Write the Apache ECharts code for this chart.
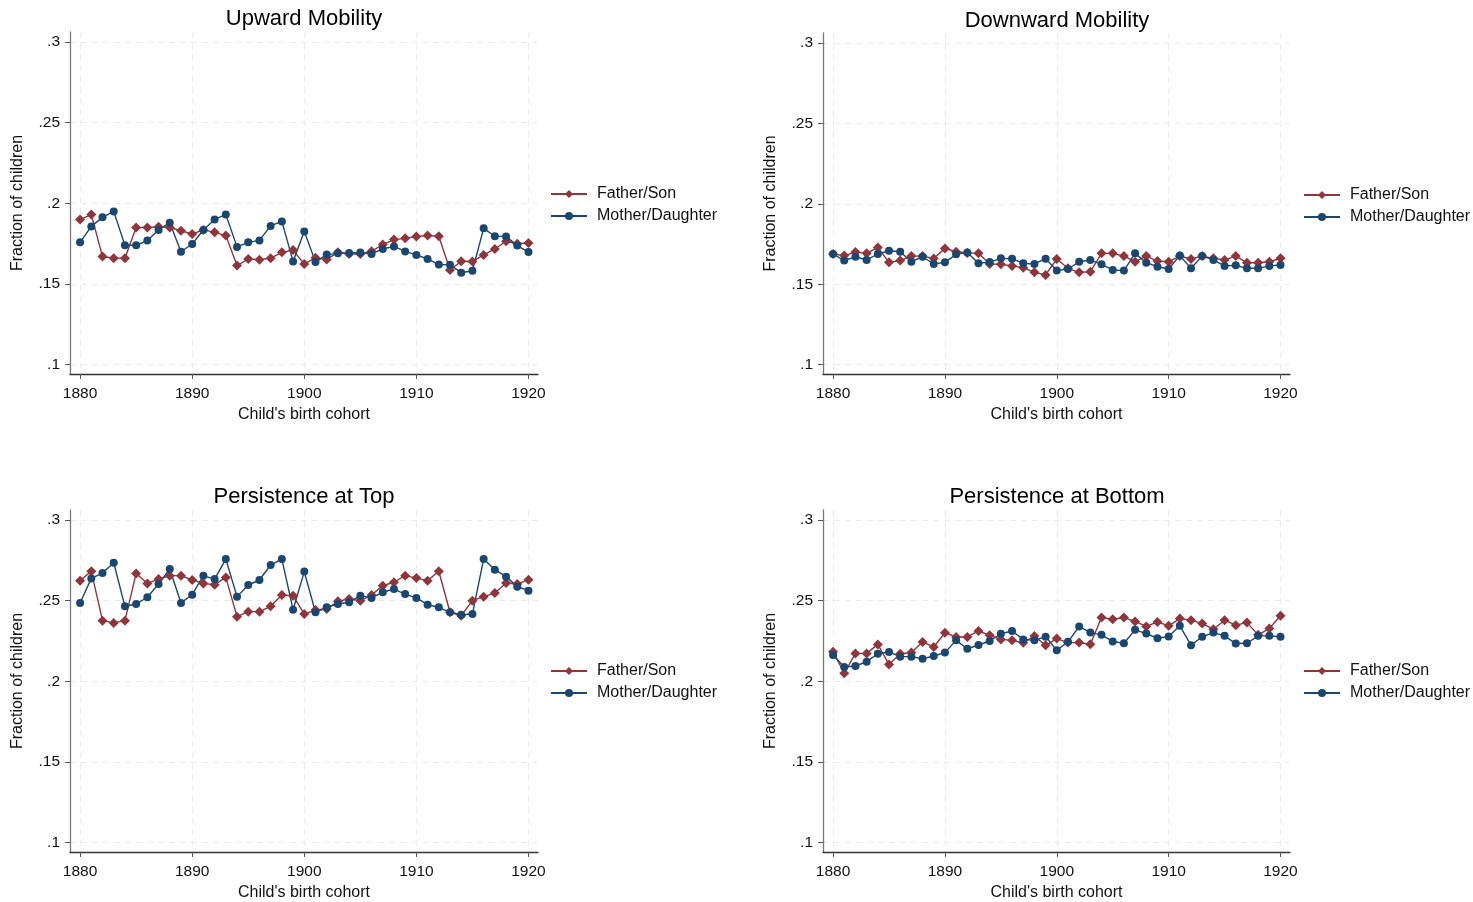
<!DOCTYPE html>
<html>
<head>
<meta charset="utf-8">
<script src="https://cdn.jsdelivr.net/npm/echarts@6/dist/echarts.min.js"></script>
<style>
html,body{margin:0;padding:0;background:#fff;}
#chart{width:1473px;height:902px;}
</style>
</head>
<body>
<div id="chart"></div>
<script>
// ---- data ----
const years = [];
for (let y = 1880; y <= 1920; y++) years.push(y);

const xTicks = [1880, 1890, 1900, 1910, 1920];
const yTicks = [0.1, 0.15, 0.2, 0.25, 0.3];

const panelTitles = ['Upward Mobility', 'Downward Mobility', 'Persistence at Top', 'Persistence at Bottom'];
const seriesNames = ['Father/Son', 'Mother/Daughter'];

const upFS = [.190,.193,.167,.166,.166,.185,.185,.1855,.185,.183,
              .181,.1835,.182,.180,.1614,.1655,.165,.166,.1696,.171,
              .1624,.1662,.1651,.1697,.1686,.1686,.1703,.1744,.1775,.1783,
              .1794,.180,.1796,.1587,.1641,.1639,.168,.1717,.1765,.1750,
              .1754];
const upMD = [.1758,.1857,.1913,.195,.174,.174,.1769,.1835,.188,.170,
              .1748,.1835,.190,.193,.173,.1758,.177,.186,.1888,.1640,
              .1825,.1637,.1682,.1690,.1692,.1695,.1686,.1717,.1733,.1702,
              .168,.1655,.1620,.1619,.1570,.1582,.1845,.1796,.1795,.1738,
              .1698];

const downFS = [.1688,.1678,.170,.1692,.1729,.1636,.1647,.1675,.1675,.166,
                .1723,.1702,.1695,.1692,.1626,.1624,.1614,.1603,.1574,.1558,
                .1657,.1599,.1574,.1578,.1692,.1692,.1675,.164,.1675,.1644,
                .164,.1675,.1657,.1675,.1661,.1651,.1675,.1634,.1634,.164,
                .1661];
const downMD = [.1688,.1647,.1671,.1651,.1688,.1708,.1702,.164,.1671,.1626,
                .1636,.1686,.1698,.1630,.1638,.1661,.1659,.1630,.1626,.1659,
                .1585,.1595,.164,.1651,.1624,.1589,.1585,.1692,.1634,.1609,
                .1595,.1678,.1599,.1675,.1651,.1614,.1618,.1599,.1599,.1614,
                .162];

const topFS = [.2624,.2682,.2376,.2362,.2376,.2669,.2607,.2634,.2655,.2655,
               .2628,.2607,.2599,.2644,.2401,.2432,.2432,.2465,.2535,.2531,
               .2417,.2442,.2448,.2496,.251,.25,.2535,.2593,.2614,.2655,
               .264,.2624,.2682,.2428,.2407,.25,.2525,.2547,.2609,.2603,
               .263];
const topMD = [.2486,.2638,.2671,.2735,.2465,.2479,.2521,.2603,.2696,.2486,
               .2537,.2655,.2634,.2758,.2525,.2597,.2628,.2721,.2758,.2444,
               .268,.2428,.2459,.2479,.249,.2531,.2517,.2552,.2572,.2541,
               .2517,.2475,.2459,.2428,.2413,.2417,.2758,.2692,.2649,.2587,
               .2562];

const botFS = [.2184,.205,.2173,.2173,.2229,.2105,.2171,.2178,.2244,.2213,
               .2301,.2275,.2275,.2312,.2285,.226,.2254,.2239,.2281,.2223,
               .2265,.224,.224,.223,.2395,.2385,.2395,.2371,.234,.2368,
               .2344,.2389,.2379,.2358,.2323,.2379,.2348,.2364,.2288,.2327,
               .2406];
const botMD = [.2163,.2089,.2095,.2122,.2171,.2182,.2153,.2153,.214,.2157,
               .2178,.2254,.2202,.2225,.225,.2295,.2312,.226,.2254,.2277,
               .2193,.2245,.234,.2302,.2288,.2247,.2236,.2319,.2296,.2267,
               .2278,.2344,.2224,.2276,.2302,.2282,.2234,.2236,.2282,.2282,
               .2276];

const panelData = [[upFS, upMD], [downFS, downMD], [topFS, topMD], [botFS, botMD]];

// ---- layout / style ----
const FONT = 'Liberation Sans, Arial, sans-serif';
const RED = '#90353B';
const BLUE = '#1A476F';
const grids = [
  {left: 70,  top: 32,  width: 468, height: 342},
  {left: 823, top: 33,  width: 467, height: 341},
  {left: 70,  top: 510, width: 468, height: 342},
  {left: 823, top: 510, width: 467, height: 342}
];
const titlePos = [[304, 8], [1057, 10], [304, 486], [1057, 486]];
const legendPos = [[550, 186], [1303, 187], [550, 663], [1303, 663]];

const gridLine = {show: true, lineStyle: {color: '#ebebeb', width: 1, type: [6, 5]}};

const option = {
  animation: false,
  backgroundColor: '#fff',
  title: panelTitles.map((t, i) => ({
    text: t, left: titlePos[i][0], top: titlePos[i][1], textAlign: 'center', padding: 0,
    textStyle: {fontFamily: FONT, fontSize: 22, fontWeight: 'normal', color: '#000'}
  })),
  legend: legendPos.map((p, i) => ({
    data: seriesNames, orient: 'vertical', left: p[0], top: p[1], padding: 0,
    itemWidth: 36, itemHeight: 10, itemGap: 6,
    textStyle: {fontFamily: FONT, fontSize: 16, lineHeight: 16, color: '#111', padding: [0, 0, 0, 5]},
    selectedMode: false
  })),
  grid: grids,
  xAxis: grids.map((g, i) => ({
    type: 'value', gridIndex: i, min: 1879.1, max: 1920.85,
    name: "Child's birth cohort", nameLocation: 'middle', nameGap: 33,
    nameTextStyle: {fontFamily: FONT, fontSize: 16, color: '#111'},
    axisLine: {show: true, onZero: false, lineStyle: {color: '#333', width: 1.3}},
    axisTick: {show: true, length: 5, customValues: xTicks, lineStyle: {color: '#555'}},
    axisLabel: {customValues: xTicks, margin: 12, fontFamily: FONT, fontSize: 15.5, color: '#111',
                formatter: v => String(v)},
    splitLine: gridLine
  })),
  yAxis: grids.map((g, i) => ({
    type: 'value', gridIndex: i, min: 0.0942, max: 0.3062,
    name: 'Fraction of children', nameLocation: 'middle', nameGap: 44, nameRotate: 90,
    nameTextStyle: {fontFamily: FONT, fontSize: 16, color: '#111'},
    axisLine: {show: true, onZero: false, lineStyle: {color: '#777', width: 1.3}},
    axisTick: {show: true, length: 5, customValues: yTicks, lineStyle: {color: '#555'}},
    axisLabel: {customValues: yTicks, margin: 10, fontFamily: FONT, fontSize: 15.5, color: '#111',
                formatter: v => String(+v.toFixed(2)).replace(/^0/, '')},
    splitLine: gridLine
  })),
  series: []
};

panelData.forEach((pair, i) => {
  option.series.push({
    name: seriesNames[0], type: 'line', xAxisIndex: i, yAxisIndex: i,
    data: years.map((y, k) => [y, pair[0][k]]),
    symbol: 'diamond', symbolSize: 10, showSymbol: true,
    lineStyle: {color: RED, width: 1.4}, itemStyle: {color: RED}
  });
  option.series.push({
    name: seriesNames[1], type: 'line', xAxisIndex: i, yAxisIndex: i,
    data: years.map((y, k) => [y, pair[1][k]]),
    symbol: 'circle', symbolSize: 8, showSymbol: true,
    lineStyle: {color: BLUE, width: 1.4}, itemStyle: {color: BLUE}
  });
});

const chart = echarts.init(document.getElementById('chart'), null, {renderer: 'canvas'});
chart.setOption(option);
</script>
</body>
</html>
